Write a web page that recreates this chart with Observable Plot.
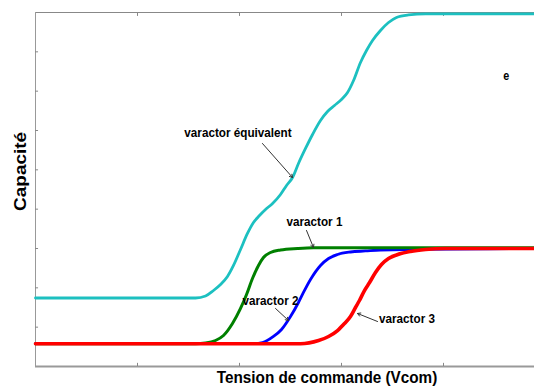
<!DOCTYPE html>
<html><head><meta charset="utf-8">
<script src="https://cdn.jsdelivr.net/npm/d3@7"></script>
<script src="https://cdn.jsdelivr.net/npm/@observablehq/plot@0.6"></script>
<style>html,body{margin:0;padding:0;background:#fff;overflow:hidden}</style>
</head><body><div id="chart"></div>
<script>
// ---- data (x: tension de commande, y: capacité, arbitrary units) ----
const varactorEquivalent = [[0,1.742],[1.569,1.742],[1.667,1.793],[1.745,1.932],[1.814,2.085],[1.882,2.288],[1.941,2.568],[2.010,2.975],[2.078,3.382],[2.137,3.661],[2.196,3.839],[2.255,3.992],[2.324,4.144],[2.402,4.373],[2.461,4.602],[2.520,4.805],[2.578,5.161],[2.647,5.543],[2.716,5.899],[2.794,6.255],[2.863,6.484],[2.931,6.636],[3.0,6.789],[3.059,6.967],[3.118,7.272],[3.186,7.73],[3.245,8.035],[3.304,8.289],[3.382,8.543],[3.461,8.746],[3.539,8.874],[3.657,8.937],[3.824,8.963],[4.892,8.963]];
const varactor1 = [[0,0.58],[1.569,0.58],[1.667,0.598],[1.765,0.661],[1.843,0.788],[1.931,1.093],[2.010,1.475],[2.069,1.831],[2.127,2.237],[2.186,2.568],[2.235,2.771],[2.304,2.899],[2.402,2.962],[2.569,3.0],[2.725,3.018],[4.892,3.018]];
const varactor2 = [[0,0.58],[2.108,0.58],[2.225,0.61],[2.333,0.763],[2.412,0.941],[2.5,1.271],[2.578,1.627],[2.627,1.882],[2.696,2.212],[2.794,2.568],[2.873,2.746],[2.961,2.848],[3.088,2.911],[3.235,2.937],[3.382,2.962],[4.892,3.0]];
const varactor3 = [[0,0.58],[2.598,0.58],[2.775,0.661],[2.873,0.763],[2.961,0.915],[3.029,1.093],[3.088,1.271],[3.137,1.5],[3.176,1.678],[3.225,1.932],[3.275,2.136],[3.333,2.39],[3.392,2.593],[3.461,2.746],[3.539,2.835],[3.676,2.924],[3.824,2.975],[4.02,3.0],[4.892,3.0]];

const xTicks = [1, 2, 3, 4];
const yTicks = [1, 2, 3, 4, 5, 6, 7, 8];

const labelText = ["varactor équivalent", "varactor 1", "varactor 2", "varactor 3"];
const labelX = [1.985, 2.735, 2.304, 3.642];
const labelY = [5.95, 3.67, 1.678, 1.22];
const arrowX1 = [2.225, 2.657, 2.353, 3.353];
const arrowY1 = [5.67, 3.458, 1.475, 1.144];
const arrowX2 = [2.52, 2.725, 2.48, 3.157];
const arrowY2 = [4.805, 3.026, 1.17, 1.348];

const xTitle = "Tension de commande (Vcom)";
const yTitle = "Capacité";
const stray = "e";

const labels = labelText.map((t, i) => ({t, x: labelX[i], y: labelY[i]}));
const arrows = labelText.map((t, i) => ({x1: arrowX1[i], y1: arrowY1[i], x2: arrowX2[i], y2: arrowY2[i]}));

const font = "Liberation Sans, Arial, Helvetica, sans-serif";
const line = (data, stroke, w) => Plot.line(data, {x: d => d[0], y: d => d[1], stroke, strokeWidth: w, curve: "monotone-x"});

const chart = Plot.plot({
  width: 534, height: 387,
  marginLeft: 35, marginRight: 0, marginTop: 12, marginBottom: 21,
  x: {domain: [0, 4.892], axis: null},
  y: {domain: [0, 9], axis: null},
  style: {fontFamily: font, background: "#fff", overflow: "visible"},
  marks: [
    Plot.ruleY([9], {stroke: "#888", strokeWidth: 1}),
    Plot.ruleY([0], {stroke: "#999", strokeWidth: 2}),
    Plot.ruleX([0], {stroke: "#999", strokeWidth: 1}),
    Plot.ruleX(xTicks, {x: d => d, y1: 0, y2: 0.08, stroke: "#888"}),
    Plot.ruleX(xTicks, {x: d => d, y1: 9, y2: 8.9, stroke: "#888"}),
    Plot.ruleY(yTicks, {y: d => d, x1: 0, x2: 0.03, stroke: "#888"}),
    line(varactorEquivalent, "#1cc0c0", 2.8),
    line(varactor2, "#0000ff", 2.8),
    line(varactor1, "#008000", 3),
    line(varactor3, "#ff0000", 3.6),
    Plot.arrow(arrows, {x1: "x1", y1: "y1", x2: "x2", y2: "y2", stroke: "#333", strokeWidth: 1, headLength: 5}),
    Plot.text(labels, {x: "x", y: "y", text: "t", fontSize: 13, fontWeight: "bold", fill: "#000", textAnchor: "middle", lineAnchor: "middle"}),
    Plot.text([stray], {x: () => 4.615, y: () => 7.373, text: d => d, fontSize: 12, fontWeight: "bold", fill: "#000"}),
    Plot.text([xTitle], {x: () => 2.858, y: () => -0.27, text: d => d, fontSize: 17, fontWeight: "bold", fill: "#000", lineAnchor: "middle"}),
    Plot.text([yTitle], {x: () => -0.147, y: () => 4.96, text: d => d, rotate: -90, fontSize: 19, fontWeight: "bold", fill: "#000", lineAnchor: "middle"})
  ]
});

// condense text horizontally like the reference
chart.querySelectorAll("text").forEach(t => {
  let tr = t.getAttribute("transform");
  if (!tr) {
    const x = t.getAttribute("x") || 0, y = t.getAttribute("y") || 0;
    t.removeAttribute("x"); t.removeAttribute("y");
    tr = `translate(${x},${y})`;
  }
  t.setAttribute("transform", tr + (tr.includes("rotate") ? " scale(1,0.88)" : " scale(0.9,1)"));
});
document.getElementById("chart").appendChild(chart);
</script>
</body></html>
